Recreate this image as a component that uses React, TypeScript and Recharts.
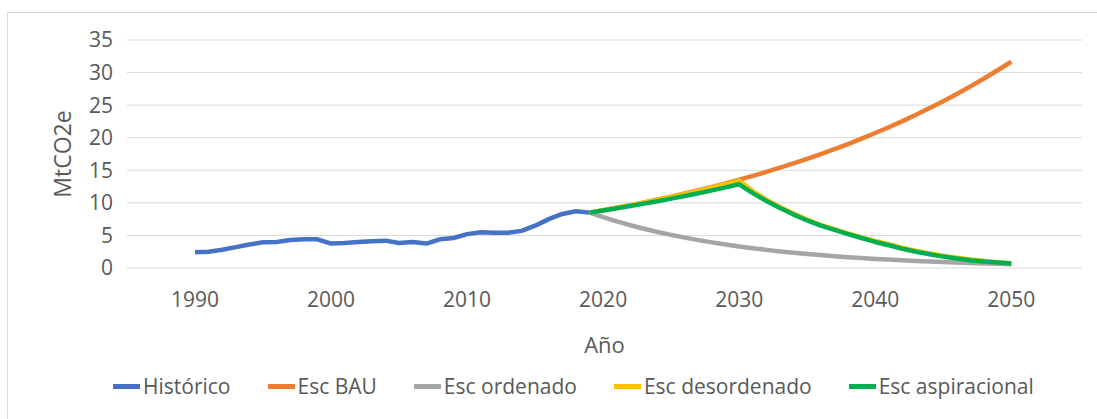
import React from 'react';
import { LineChart, Line, XAxis, YAxis, CartesianGrid } from 'recharts';

const FIRST_YEAR = 1990;
const LAST_YEAR = 2050;
const SCEN_START = 2019;

const historico = [2.4, 2.5, 2.8, 3.2, 3.6, 3.95, 4.0, 4.3, 4.4, 4.4, 3.75, 3.85, 4.0, 4.1, 4.2, 3.85, 4.0, 3.75, 4.4, 4.6, 5.2, 5.5, 5.4, 5.4, 5.7, 6.5, 7.5, 8.3, 8.7, 8.5];

const escBAU = [8.5, 8.87, 9.25, 9.65, 10.07, 10.51, 10.96, 11.44, 11.93, 12.45, 12.99, 13.56, 14.14, 14.76, 15.4, 16.06, 16.76, 17.48, 18.24, 19.03, 19.86, 20.72, 21.61, 22.55, 23.53, 24.55, 25.61, 26.72, 27.88, 29.09, 30.35, 31.66];

const escOrdenado = [8.5, 7.8, 7.16, 6.57, 6.03, 5.53, 5.08, 4.66, 4.28, 3.93, 3.6, 3.31, 3.03, 2.78, 2.55, 2.34, 2.15, 1.98, 1.81, 1.66, 1.53, 1.4, 1.29, 1.18, 1.08, 0.99, 0.91, 0.84, 0.77, 0.7, 0.65, 0.59];

const escDesordenado = [8.5, 8.86, 9.24, 9.63, 10.04, 10.46, 10.91, 11.37, 11.85, 12.35, 12.87, 13.42, 11.8, 10.5, 9.35, 8.35, 7.45, 6.62, 5.98, 5.3, 4.7, 4.15, 3.65, 3.1, 2.65, 2.25, 1.88, 1.57, 1.3, 1.08, 0.9, 0.74];

const escAspiracional = [8.5, 8.83, 9.17, 9.52, 9.88, 10.26, 10.65, 11.06, 11.48, 11.92, 12.38, 12.85, 11.5, 10.3, 9.2, 8.2, 7.3, 6.5, 5.85, 5.2, 4.6, 4.0, 3.5, 2.95, 2.5, 2.1, 1.75, 1.45, 1.2, 1.0, 0.85, 0.7];

const xTicks = [1990, 2000, 2010, 2020, 2030, 2040, 2050];
const yTicks = [0, 5, 10, 15, 20, 25, 30, 35];

const seriesNames = ['Histórico', 'Esc BAU', 'Esc ordenado', 'Esc desordenado', 'Esc aspiracional'];
const seriesKeys = ['historico', 'bau', 'ordenado', 'desordenado', 'aspiracional'];
const seriesColors = ['#4472C4', '#ED7D31', '#A5A5A5', '#FFC000', '#00B050'];

const data: any[] = [];
for (let y = FIRST_YEAR; y <= LAST_YEAR; y++) {
  const hi = y - FIRST_YEAR;
  const si = y - SCEN_START;
  data.push({
    year: y,
    historico: hi < historico.length ? historico[hi] : null,
    bau: si >= 0 ? escBAU[si] : null,
    ordenado: si >= 0 ? escOrdenado[si] : null,
    desordenado: si >= 0 ? escDesordenado[si] : null,
    aspiracional: si >= 0 ? escAspiracional[si] : null,
  });
}

const FONT = "'Open Sans', sans-serif";
const TXT = '#595959';

export default function App() {
  return (
    <div style={{ position: 'absolute', left: 0, top: 0, width: 1097, height: 419, background: '#fff', overflow: 'hidden' }}>
      <div style={{ position: 'absolute', left: 7, top: 12, width: 1097, height: 419, border: '1px solid #D9D9D9', boxSizing: 'border-box' }} />
      <div style={{ position: 'absolute', left: 0, top: 0 }}>
        <LineChart width={1097} height={419} data={data} margin={{ top: 40, right: 15, left: 0, bottom: 61 }}>
          <CartesianGrid horizontal={true} vertical={false} stroke="#D9D9D9" strokeWidth={1} />
          <XAxis
            dataKey="year"
            type="number"
            domain={[1985, 2055.2]}
            ticks={xTicks}
            axisLine={false}
            tickLine={false}
            tickSize={0}
            tickMargin={24}
            height={90}
            tick={{ fill: TXT, fontSize: 21, fontFamily: FONT }}
            label={{ value: 'Año', position: 'insideBottom', offset: 5, fill: TXT, fontSize: 22, fontFamily: FONT }}
          />
          <YAxis
            type="number"
            domain={[0, 35]}
            ticks={yTicks}
            axisLine={false}
            tickLine={false}
            tickSize={0}
            tickMargin={14}
            width={127}
            tick={{ fill: TXT, fontSize: 21, fontFamily: FONT }}
            label={{ value: 'MtCO2e', angle: -90, position: 'insideLeft', offset: 63, fill: TXT, fontSize: 23, fontFamily: FONT, style: { textAnchor: 'middle' } }}
          />
          {seriesKeys.map((k, i) => (
            <Line
              key={k}
              type="linear"
              dataKey={k}
              name={seriesNames[i]}
              stroke={seriesColors[i]}
              strokeWidth={4.5}
              strokeLinejoin="round"
              dot={false}
              activeDot={false}
              isAnimationActive={false}
            />
          ))}
        </LineChart>
      </div>
      <div style={{ position: 'absolute', left: 113, top: 373, display: 'flex', gap: 37, fontFamily: FONT, fontSize: 21, lineHeight: '26px', color: TXT, whiteSpace: 'nowrap' }}>
        {seriesNames.map((n, i) => (
          <div key={n} style={{ display: 'flex', alignItems: 'center' }}>
            <svg width={27} height={5} style={{ marginRight: 3, display: 'block' }}>
              <rect x={0} y={0} width={27} height={5} fill={seriesColors[i]} />
            </svg>
            <span>{n}</span>
          </div>
        ))}
      </div>
    </div>
  );
}
